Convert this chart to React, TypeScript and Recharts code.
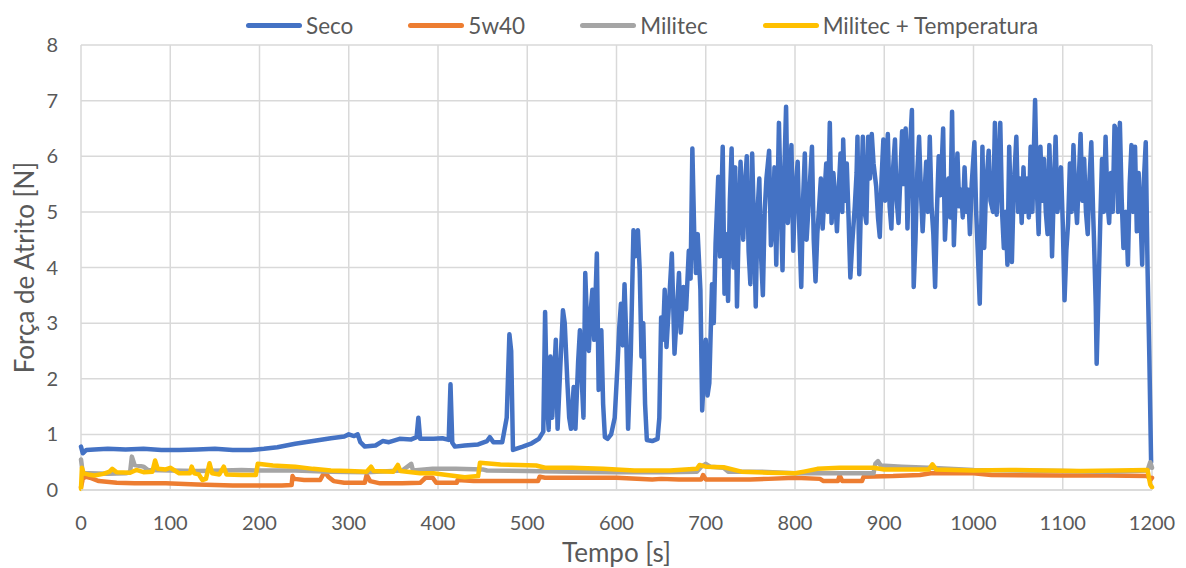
import { LineChart, Line, XAxis, YAxis, CartesianGrid, Legend, Label } from "recharts";

// tempo [s], força [N]
const seco: [number, number][] = [
  [0, 0.78], [2, 0.66], [6, 0.72], [15, 0.73], [30, 0.74], [50, 0.73], [70, 0.74], [90, 0.72],
  [110, 0.72], [130, 0.73], [150, 0.74], [170, 0.72], [190, 0.72], [205, 0.74], [220, 0.77],
  [240, 0.83], [260, 0.88], [280, 0.93], [295, 0.96], [300, 1.0], [306, 0.97], [310, 1.0],
  [313, 0.86], [318, 0.78], [330, 0.8], [338, 0.88], [345, 0.86], [357, 0.92], [370, 0.91],
  [376, 0.95], [378, 1.3], [380, 0.92], [395, 0.92], [405, 0.93], [412, 0.9], [414, 1.9],
  [416, 0.85], [419, 0.78], [430, 0.8], [445, 0.82], [455, 0.88], [458, 0.95], [462, 0.86],
  [472, 0.86], [477, 1.3], [480, 2.8], [482, 2.5], [484, 0.72], [495, 0.78], [505, 0.84],
  [513, 0.92], [518, 1.05],
  [520, 3.2], [522, 1.6], [524, 1.08], [526, 2.4], [528, 1.3], [530, 2.0], [532, 2.7], [534, 1.1],
  [537, 2.2], [540, 3.23], [542, 3.0], [545, 1.92], [547, 1.3], [549, 1.1], [552, 1.85], [554, 1.1],
  [557, 2.3], [559, 2.87], [561, 2.0], [563, 1.3], [565, 3.9], [567, 3.0], [569, 2.5], [571, 3.2],
  [573, 3.6], [575, 2.7], [578, 4.25], [580, 1.8], [583, 2.87], [585, 1.55], [587, 0.95], [590, 0.92],
  [594, 1.0], [598, 1.3], [601, 2.2], [603, 2.9], [605, 3.35], [607, 2.6], [609, 3.7], [611, 2.7],
  [613, 1.1], [616, 2.45], [619, 4.67], [621, 4.2], [624, 4.67], [626, 3.95], [628, 2.4], [630, 3.0],
  [632, 1.55], [634, 0.9], [640, 0.88], [646, 0.92], [648, 1.3], [650, 3.1], [652, 2.7], [654, 3.6],
  [656, 2.57], [659, 3.4], [662, 4.25], [665, 2.45], [667, 3.0], [670, 3.9], [672, 2.83], [675, 3.65],
  [678, 3.25], [681, 4.3], [683, 3.8], [685, 6.14], [687, 4.67], [689, 3.9], [691, 4.6], [694, 3.6],
  [696, 1.43], [698, 2.1], [700, 2.7], [702, 1.7], [704, 1.92], [707, 3.7], [709, 3.0], [711, 4.43],
  [714, 5.63], [716, 4.2], [719, 6.17], [721, 3.53], [723, 4.6], [725, 3.4], [727, 5.2], [729, 6.14],
  [731, 4.0], [733, 5.8], [735, 3.3], [737, 4.8], [739, 5.9], [742, 4.5], [744, 5.5], [746, 6.0],
  [748, 4.3], [750, 3.7], [752, 6.05], [754, 4.8], [756, 3.3], [758, 5.0], [760, 5.6], [762, 4.2],
  [764, 3.5], [766, 5.0], [768, 5.6], [771, 6.1], [773, 4.4], [775, 4.75], [777, 5.8], [779, 4.05],
  [782, 6.6], [784, 5.2], [786, 3.95], [788, 5.7], [790, 6.89], [792, 4.8], [794, 5.5], [796, 6.2],
  [798, 4.3], [800, 5.3], [803, 5.9], [805, 4.6], [807, 3.65], [809, 5.2], [811, 6.05], [813, 4.5],
  [815, 5.05], [817, 5.6], [819, 6.17], [821, 4.5], [823, 3.75], [825, 4.6], [827, 5.09], [829, 5.6],
  [831, 4.7], [833, 5.3], [835, 5.87], [837, 5.0], [839, 6.6], [841, 4.8], [843, 5.7], [845, 5.25],
  [847, 4.65], [849, 5.4], [851, 6.05], [853, 5.0], [854, 6.3], [856, 5.2], [858, 5.87], [860, 4.9],
  [862, 3.82], [864, 4.4], [867, 5.1], [869, 5.7], [870, 6.35], [872, 3.88], [874, 5.2], [876, 6.35],
  [878, 5.0], [880, 4.8], [882, 6.35], [884, 5.6], [886, 6.4], [888, 5.87], [891, 5.45], [893, 4.9],
  [895, 4.55], [897, 5.6], [899, 6.3], [901, 5.2], [904, 6.4], [906, 5.1], [908, 4.7], [910, 5.8],
  [912, 6.3], [914, 5.2], [916, 4.8], [918, 5.6], [920, 6.45], [922, 5.5], [924, 6.5], [926, 4.7],
  [928, 5.9], [931, 6.83], [933, 3.65], [935, 4.5], [937, 5.7], [939, 6.35], [941, 5.4], [943, 4.65],
  [945, 5.3], [947, 5.9], [949, 5.0], [951, 6.35], [953, 5.1], [955, 4.6], [957, 3.65], [959, 5.0],
  [961, 6.0], [963, 5.3], [966, 6.5], [968, 4.5], [970, 5.2], [972, 5.6], [974, 4.9], [976, 6.8],
  [978, 4.4], [980, 5.3], [982, 6.05], [984, 5.1], [986, 5.4], [988, 4.9], [990, 5.8], [992, 5.0],
  [994, 5.4], [996, 4.6], [998, 5.5], [1001, 6.25], [1003, 5.0], [1005, 4.2], [1007, 3.35], [1009, 5.0],
  [1010, 6.17], [1012, 4.35], [1014, 5.4], [1017, 6.1], [1019, 5.2], [1022, 5.0], [1024, 6.6], [1026, 4.95],
  [1028, 5.6], [1030, 6.6], [1032, 5.0], [1034, 4.35], [1036, 5.0], [1038, 4.05], [1040, 6.17], [1042, 5.0],
  [1043, 4.1], [1045, 5.4], [1048, 6.35], [1050, 5.0], [1052, 5.6], [1054, 4.8], [1056, 5.8], [1058, 5.0],
  [1060, 5.6], [1062, 4.9], [1064, 6.17], [1066, 5.0], [1069, 7.01], [1071, 5.4], [1073, 4.6], [1075, 6.17],
  [1077, 5.2], [1079, 5.95], [1081, 5.0], [1083, 4.6], [1085, 6.2], [1087, 5.1], [1088, 4.2], [1090, 5.4],
  [1092, 6.35], [1094, 5.0], [1096, 5.25], [1098, 5.8], [1100, 4.8], [1102, 3.41], [1104, 4.3], [1106, 4.8],
  [1108, 5.87], [1110, 5.0], [1112, 6.2], [1114, 5.3], [1116, 4.8], [1118, 5.6], [1120, 6.4], [1122, 5.2],
  [1124, 5.95], [1126, 5.0], [1128, 4.6], [1130, 5.6], [1132, 6.25], [1134, 5.0], [1135, 4.5], [1137, 3.3],
  [1138, 2.27], [1140, 3.5], [1142, 4.8], [1144, 5.95], [1146, 5.0], [1148, 6.35], [1150, 5.2], [1152, 4.8],
  [1154, 5.7], [1156, 5.0], [1158, 6.55], [1160, 6.45], [1162, 5.0], [1164, 6.6], [1166, 5.25], [1168, 4.35],
  [1171, 5.0], [1173, 4.05], [1175, 5.5], [1177, 6.2], [1179, 5.0], [1181, 6.17], [1183, 4.65], [1185, 5.7],
  [1187, 5.0], [1189, 4.05], [1191, 5.6], [1193, 6.25], [1195, 4.0], [1197, 2.4], [1199, 0.5],
];

const oleo5w40: [number, number][] = [
  [0, 0.05], [2, 0.2], [5, 0.24], [10, 0.22], [20, 0.16], [40, 0.13], [60, 0.12], [95, 0.12],
  [130, 0.1], [170, 0.08], [200, 0.08], [225, 0.08], [236, 0.09], [237, 0.25], [239, 0.2], [250, 0.18],
  [268, 0.18], [273, 0.33], [277, 0.24], [283, 0.16], [295, 0.13], [318, 0.13], [320, 0.27], [324, 0.16],
  [335, 0.12], [360, 0.12], [380, 0.13], [386, 0.22], [394, 0.22], [398, 0.13], [421, 0.13], [422, 0.18],
  [440, 0.16], [480, 0.16], [512, 0.16], [514, 0.24], [520, 0.22], [600, 0.22], [640, 0.19], [650, 0.2],
  [670, 0.19], [695, 0.19], [697, 0.27], [700, 0.19], [750, 0.19], [770, 0.2], [800, 0.22], [828, 0.2],
  [832, 0.16], [848, 0.16], [850, 0.26], [853, 0.16], [875, 0.16], [877, 0.24], [910, 0.25], [940, 0.27],
  [952, 0.3], [1000, 0.3], [1020, 0.27], [1100, 0.26], [1150, 0.26], [1195, 0.25], [1198, 0.18], [1200, 0.22],
];

const militec: [number, number][] = [
  [0, 0.55], [2, 0.3], [10, 0.3], [30, 0.29], [50, 0.3], [55, 0.32], [57, 0.6], [60, 0.45], [70, 0.42],
  [75, 0.36], [100, 0.35], [130, 0.34], [160, 0.35], [180, 0.36], [200, 0.35], [240, 0.35], [280, 0.33],
  [320, 0.32], [360, 0.35], [370, 0.47], [372, 0.35], [394, 0.38], [420, 0.38], [450, 0.37], [455, 0.35],
  [500, 0.34], [550, 0.33], [600, 0.32], [650, 0.32], [690, 0.33], [695, 0.42], [700, 0.47], [705, 0.42],
  [720, 0.4], [725, 0.33], [760, 0.33], [800, 0.3], [850, 0.3], [888, 0.3], [890, 0.47], [893, 0.52],
  [896, 0.44], [920, 0.42], [950, 0.4], [1000, 0.36], [1050, 0.35], [1100, 0.34], [1150, 0.33],
  [1195, 0.35], [1198, 0.5], [1200, 0.4],
];

const militecTemp: [number, number][] = [
  [0, 0.02], [1, 0.4], [3, 0.3], [8, 0.28], [15, 0.26], [25, 0.29], [32, 0.33], [35, 0.38], [40, 0.32],
  [55, 0.31], [62, 0.36], [70, 0.32], [80, 0.33], [83, 0.53], [86, 0.38], [95, 0.37], [100, 0.4],
  [110, 0.3], [122, 0.3], [124, 0.42], [127, 0.3], [132, 0.28], [136, 0.18], [140, 0.2], [144, 0.48],
  [147, 0.3], [155, 0.28], [160, 0.42], [163, 0.28], [180, 0.27], [190, 0.27], [196, 0.27], [198, 0.47],
  [215, 0.44], [240, 0.42], [260, 0.38], [280, 0.35], [300, 0.34], [320, 0.33], [325, 0.42], [328, 0.34],
  [350, 0.33], [355, 0.45], [358, 0.34], [380, 0.3], [395, 0.3], [410, 0.27], [430, 0.23], [445, 0.25],
  [447, 0.49], [470, 0.46], [490, 0.45], [510, 0.44], [520, 0.4], [550, 0.4], [585, 0.38], [620, 0.35],
  [660, 0.35], [690, 0.38], [693, 0.45], [700, 0.42], [720, 0.41], [740, 0.33], [770, 0.31], [800, 0.3],
  [810, 0.33], [825, 0.38], [850, 0.4], [888, 0.4], [900, 0.37], [950, 0.37], [954, 0.46], [958, 0.37],
  [1000, 0.35], [1040, 0.36], [1080, 0.35], [1120, 0.34], [1160, 0.35], [1195, 0.36], [1198, 0.1], [1200, 0.05],
];

const seriesNames = ["Seco", "5w40", "Militec", "Militec + Temperatura"];
const seriesColors = ["#4472C4", "#ED7D31", "#A5A5A5", "#FFC000"];
const xTicks = [0, 100, 200, 300, 400, 500, 600, 700, 800, 900, 1000, 1100, 1200];
const yTicks = [0, 1, 2, 3, 4, 5, 6, 7, 8];

const toRows = (pts: [number, number][]) => pts.map(([t, f]) => ({ t, f }));
const allSeries = [seco, oleo5w40, militec, militecTemp].map(toRows);

const FONT = "Lato, 'Noto Sans', sans-serif";
const TEXT = "#595959";

function LegendRow() {
  return (
    <div style={{ display: "flex", alignItems: "center", paddingLeft: 246, height: 34, fontFamily: FONT, fontSize: 22.5, color: TEXT }}>
      {seriesNames.map((name, i) => (
        <div key={name} style={{ display: "flex", alignItems: "center", marginRight: 55 }}>
          <span style={{ display: "inline-block", width: 56, height: 5, background: seriesColors[i], borderRadius: 2.5, marginRight: 4 }} />
          <span>{name}</span>
        </div>
      ))}
    </div>
  );
}

export default function App() {
  return (
    <div style={{ position: "absolute", left: 0, top: 0, width: 1186, height: 568, background: "#fff" }}>
      <LineChart width={1186} height={568} margin={{ top: 11, right: 34, bottom: 0, left: 0 }}>
        <CartesianGrid stroke="#d9d9d9" strokeWidth={1.5} />
        <XAxis
          type="number"
          dataKey="t"
          domain={[0, 1200]}
          ticks={xTicks}
          interval={0}
          height={78}
          tickSize={0}
          tickMargin={26}
          axisLine={{ stroke: "#d9d9d9", strokeWidth: 1.5 }}
          tick={{ fill: TEXT, fontSize: 20, fontFamily: FONT }}
        >
          <Label
            content={({ viewBox }: any) => (
              <text x={viewBox.x + viewBox.width / 2} y={viewBox.y + 72} textAnchor="middle" fill={TEXT} fontSize={26} fontFamily={FONT}>
                Tempo [s]
              </text>
            )}
          />
        </XAxis>
        <YAxis
          type="number"
          domain={[0, 8]}
          ticks={yTicks}
          interval={0}
          width={81}
          tickSize={0}
          tickMargin={23}
          axisLine={false}
          tick={{ fill: TEXT, fontSize: 20, fontFamily: FONT }}
        >
          <Label
            content={({ viewBox }: any) => {
              const cx = viewBox.x + 24;
              const cy = viewBox.y + viewBox.height / 2;
              return (
                <text x={cx} y={cy} transform={`rotate(-90 ${cx} ${cy})`} textAnchor="middle" dominantBaseline="central" fill={TEXT} fontSize={26} fontFamily={FONT}>
                  Força de Atrito [N]
                </text>
              );
            }}
          />
        </YAxis>
        <Legend verticalAlign="top" content={() => <LegendRow />} wrapperStyle={{ top: 8, left: 0, width: 1186, height: 34 }} />
        {allSeries.map((rows, i) => (
          <Line
            key={seriesNames[i]}
            data={rows}
            dataKey="f"
            name={seriesNames[i]}
            type="linear"
            stroke={seriesColors[i]}
            strokeWidth={4.5}
            strokeLinejoin="round"
            strokeLinecap="round"
            dot={false}
            activeDot={false}
            isAnimationActive={false}
          />
        ))}
      </LineChart>
    </div>
  );
}
